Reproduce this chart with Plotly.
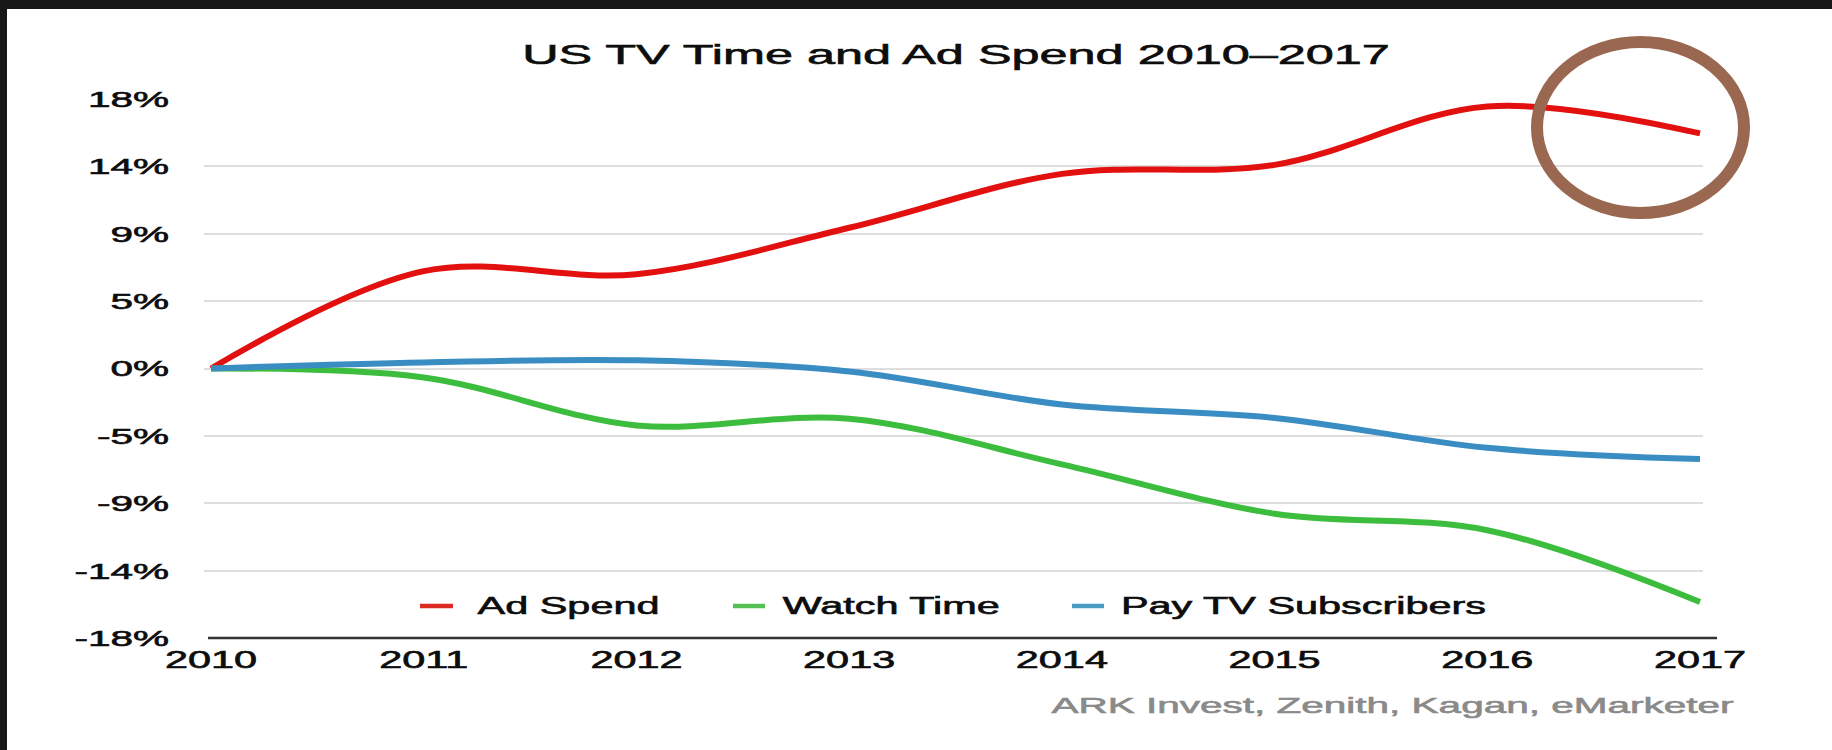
import plotly.graph_objects as go

# Cumulative change since 2010, in percent
years = [2010, 2011, 2012, 2013, 2014, 2015, 2016, 2017]
ad_spend = [0, 6.5, 6.3, 9.4, 13.0, 13.6, 17.5, 15.7]
watch_time = [0, -0.6, -3.8, -3.35, -6.4, -9.7, -10.8, -15.6]
pay_tv_subscribers = [0, 0.4, 0.55, -0.2, -2.4, -3.3, -5.3, -6.05]

y_tick_vals = [18, 13.5, 9, 4.5, 0, -4.5, -9, -13.5, -18]
y_tick_text = ["18%", "14%", "9%", "5%", "0%", "-5%", "-9%", "-14%", "-18%"]

series_names = ["Ad Spend", "Watch Time", "Pay TV Subscribers"]
series_colors = ["#e2110f", "#3dbd3d", "#3a8dc2"]
legend_colors = ["#dc2a24", "#55c155", "#4b9cc4"]

W, H = 1832, 750
ML, MR, MT, MB = 204, 129, 99, 112
PW, PH = W - ML - MR, H - MT - MB
FONT = "Liberation Sans, Arial, sans-serif"
INK = "#0d0d0d"


def px(x):
    return (x - ML) / PW


def py(y):
    return (H - MB - y) / PH


fig = go.Figure()
for name, vals, col in zip(series_names, [ad_spend, watch_time, pay_tv_subscribers], series_colors):
    fig.add_trace(go.Scatter(
        x=years, y=vals, name=name, mode="lines",
        line=dict(color=col, width=6, shape="spline", smoothing=1.0),
        showlegend=False, hoverinfo="skip",
    ))

shapes = [
    # keep the right edge of the page plain white
    dict(type="rect", xref="paper", yref="paper", x0=px(1790), x1=px(W + 20), y0=py(H + 20), y1=py(0),
         fillcolor="white", line=dict(width=0), layer="above"),
    # dark frame along the top and left edges
    dict(type="rect", xref="paper", yref="paper", x0=px(-10), x1=px(7), y0=py(H + 10), y1=py(-10),
         fillcolor="#171717", line=dict(width=0), layer="above"),
    dict(type="rect", xref="paper", yref="paper", x0=px(-10), x1=px(W + 20), y0=py(9), y1=py(-10),
         fillcolor="#171717", line=dict(width=0), layer="above"),
    # baseline
    dict(type="line", xref="paper", yref="paper", x0=px(208), x1=px(1717), y0=0, y1=0,
         line=dict(color="#333333", width=2.5), layer="above"),
    # highlight ring around the 2016-2017 drop
    dict(type="circle", xref="paper", yref="paper", x0=px(1537), x1=px(1744), y0=py(213), y1=py(42),
         line=dict(color="#9a6850", width=12), layer="above"),
]

# legend built by hand: short line sample + label
legend_sym_x = [(420, 453), (733, 765), (1072, 1104)]
legend_text_cx = [568, 891, 1303]
legend_y = 606
annotations = []
for name, col, (a, b), cx in zip(series_names, legend_colors, legend_sym_x, legend_text_cx):
    shapes.append(dict(type="line", xref="paper", yref="paper", x0=px(a), x1=px(b),
                       y0=py(legend_y), y1=py(legend_y), line=dict(color=col, width=4.5)))
    annotations.append(dict(xref="paper", yref="paper", x=px(cx), y=py(legend_y), text=name,
                            showarrow=False, xanchor="center", yanchor="middle",
                            font=dict(family=FONT, size=23, color=INK)))

annotations.append(dict(xref="paper", yref="paper", x=px(956), y=py(55),
                        text="US TV Time and Ad Spend 2010\u20132017", showarrow=False,
                        xanchor="center", yanchor="middle",
                        font=dict(family=FONT, size=28, color=INK)))
annotations.append(dict(xref="paper", yref="paper", x=px(1392), y=py(705),
                        text="ARK Invest, Zenith, Kagan, eMarketer", showarrow=False,
                        xanchor="center", yanchor="middle",
                        font=dict(family=FONT, size=22.5, color="#8a8a8a")))

fig.update_layout(
    width=W, height=H,
    margin=dict(l=ML, r=MR, t=MT, b=MB, pad=0),
    paper_bgcolor="white", plot_bgcolor="white",
    shapes=shapes, annotations=annotations,
    showlegend=False,
)
fig.update_xaxes(
    range=[2010 - 7 / 212.7, 2017 + 3 / 212.7],
    tickvals=years, ticktext=[str(y) for y in years],
    showgrid=False, zeroline=False, showline=False, ticks="",
    ticklabelstandoff=6,
    tickfont=dict(family=FONT, size=23, color=INK),
)
fig.update_yaxes(
    range=[-18, 18], tickvals=y_tick_vals, ticktext=y_tick_text,
    showgrid=True, gridcolor="#dedede", gridwidth=1.5,
    zeroline=False, showline=False, ticks="",
    ticklabelstandoff=34,
    tickfont=dict(family=FONT, size=22.5, color=INK),
)

# the typeface is set wide: stretch every label horizontally around its anchor,
# and give the glyphs a hairline outline in their own colour
widen_js = """
document.documentElement.style.overflow = 'hidden';
document.body.style.overflow = 'hidden';
document.body.style.margin = '0';
var gd = document.getElementById('{plot_id}');
var K = 1.8;
function widen() {
  gd.querySelectorAll('text').forEach(function (t) {
    if (!t.hasAttribute('data-w')) {
      t.setAttribute('data-w', t.getComputedTextLength());
    }
    var w = parseFloat(t.getAttribute('data-w'));
    if (w > 0) {
      t.setAttribute('textLength', (w * K).toFixed(2));
      t.setAttribute('lengthAdjust', 'spacingAndGlyphs');
      var fill = t.style.fill || window.getComputedStyle(t).fill;
      t.style.stroke = fill;
      t.style.strokeWidth = '0.6px';
    }
  });
}
widen();
gd.on('plotly_afterplot', widen);
"""

fig.write_html("out.html", config={"displayModeBar": False}, post_script=widen_js)
